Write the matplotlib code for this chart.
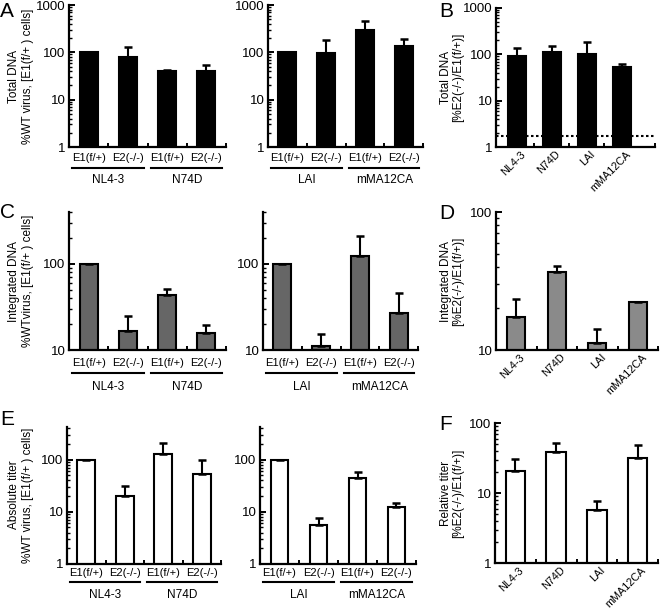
import numpy as np
import matplotlib
matplotlib.use("Agg")
import matplotlib.pyplot as plt
from matplotlib.lines import Line2D
from matplotlib.transforms import offset_copy, ScaledTranslation
from matplotlib.ticker import FuncFormatter, FixedLocator, LogLocator

plt.rcParams["font.family"] = ["Liberation Sans", "DejaVu Sans"]

W, H = 660, 616
nan = np.nan

# --- data ---
cells = ["E1(f/+)", "E2(-/-)", "E1(f/+)", "E2(-/-)"]
groups_left = ["NL4-3", "N74D"]
groups_right = ["LAI", "mMA12CA"]
viruses = ["NL4-3", "N74D", "LAI", "mMA12CA"]

total_left = [100, 81, 40, 40]
total_left_top = [nan, 132, 42, 55]
total_right = [100, 95, 297, 137]
total_right_top = [nan, 178, 452, 192]
total_ratio = [90, 111, 100, 52]
total_ratio_top = [140, 155, 183, 62]
total_limit = 1.7

integ_left = [100, 16.8, 43.6, 15.6]
integ_left_top = [nan, 25, 50.7, 19.5]
integ_right = [100, 11.1, 125, 27.2]
integ_right_top = [nan, 15.2, 213, 45.6]
integ_ratio = [17.2, 36.8, 11.2, 22.1]
integ_ratio_top = [23.4, 40.5, 14.2, nan]

titer_left = [100, 19.7, 128.5, 52]
titer_left_top = [nan, 30.7, 209, 100]
titer_right = [100, 5.7, 43.8, 12.3]
titer_right_top = [nan, 7.55, 58.8, 14.7]
titer_ratio = [20.4, 38, 5.78, 31.6]
titer_ratio_top = [31, 51.8, 7.6, 48]

BLACK = "#000000"
GRAY_C = "#666666"
GRAY_D = "#8a8a8a"
WHITE = "#ffffff"

fig = plt.figure(figsize=(W / 100, H / 100), dpi=100)


def add_ax(left, right, top, bottom):
    return fig.add_axes([left / W, 1 - bottom / H, (right - left) / W, (bottom - top) / H])


def style(ax, ylim, xlim, minor_x):
    ax.set_yscale("log")
    ax.set_ylim(*ylim)
    ax.set_xlim(*xlim)
    for s in ("top", "right"):
        ax.spines[s].set_visible(False)
    for s in ("left", "bottom"):
        ax.spines[s].set_linewidth(1.6)
    ax.yaxis.set_major_locator(LogLocator(base=10))
    ax.yaxis.set_minor_locator(LogLocator(base=10, subs=np.arange(2, 10)))
    ax.yaxis.set_major_formatter(FuncFormatter(lambda v, _: f"{v:g}"))
    ax.yaxis.set_minor_formatter(FuncFormatter(lambda v, _: ""))
    ax.tick_params(axis="y", which="major", direction="in", length=4, width=1.4, labelsize=9.5, pad=2.5)
    ax.tick_params(axis="y", which="minor", direction="in", length=2, width=1.0)
    ax.xaxis.set_minor_locator(FixedLocator(minor_x))
    ax.tick_params(axis="x", which="minor", direction="in", length=3, width=1.4)
    ax.tick_params(axis="x", which="major", length=0)


def bars(ax, vals, tops, color, width):
    x = np.arange(len(vals))
    vals = np.asarray(vals, float)
    tops = np.asarray(tops, float)
    ax.bar(x, vals, width=width, color=color, edgecolor="black", linewidth=1.5, zorder=2)
    ax.errorbar(x, vals, yerr=[np.zeros_like(vals), tops - vals], fmt="none",
                ecolor="black", elinewidth=1.5, capsize=3.2, capthick=1.8, zorder=3)


def pair_panel(left, right, top, bottom, vals, tops, groups, color, ylim, offs):
    ax = add_ax(left, right, top, bottom)
    style(ax, ylim, (-0.5, 3.5), [0.5, 1.5, 2.5, 3.5])
    bars(ax, vals, tops, color, 0.46)
    ax.set_xticks(range(4))
    ax.set_xticklabels(cells, fontsize=8)
    ax.tick_params(axis="x", which="major", pad=offs[0])
    base = ax.get_xaxis_transform()
    line_tr = offset_copy(base, fig=fig, y=-offs[1], units="dots")
    text_tr = offset_copy(base, fig=fig, y=-offs[2], units="dots")
    for g, name in enumerate(groups):
        ax.add_line(Line2D([2 * g - 0.42, 2 * g + 1.4], [0, 0], transform=line_tr,
                           color="black", lw=1.5, clip_on=False))
        ax.text(2 * g + 0.5, 0, name, transform=text_tr, ha="center", va="center", fontsize=8.5)
    return ax


def ratio_panel(left, right, top, bottom, vals, tops, color, ylim, xlim, minor_x, width):
    ax = add_ax(left, right, top, bottom)
    style(ax, ylim, xlim, minor_x)
    bars(ax, vals, tops, color, width)
    ax.set_xticks(range(4))
    ax.set_xticklabels(viruses, fontsize=7.8, rotation=45, ha="right", va="center",
                       rotation_mode="anchor")
    ax.tick_params(axis="x", which="major", pad=4)
    shift = ScaledTranslation(7 / 100, 0, fig.dpi_scale_trans)
    for lab in ax.get_xticklabels():
        lab.set_transform(lab.get_transform() + shift)
    return ax


def ylabel(x_px, y_px, text, size=8.5):
    fig.text(x_px / W, 1 - y_px / H, text, rotation=90, ha="center", va="center", fontsize=size)


def letter(x_px, y_px, s):
    fig.text(x_px / W, 1 - y_px / H, s, ha="left", va="top", fontsize=15)


# --- row 1: total DNA ---
pair_panel(69, 226, 5, 147, total_left, total_left_top, groups_left, BLACK, (1, 1000), (4, 21, 33))
pair_panel(268, 423, 5, 147, total_right, total_right_top, groups_right, BLACK, (1, 1000), (4, 21, 33))
axb = ratio_panel(496, 655, 8, 147, total_ratio, total_ratio_top, BLACK, (1, 1000),
                  (-0.6, 3.95), [0.5, 1.5, 2.5, 3.95], 0.5)
axb.axhline(total_limit, color="black", lw=1.5, ls=(0, (1.2, 1.2)), zorder=1)

# --- row 2: integrated DNA ---
pair_panel(69, 226, 212, 350, integ_left, integ_left_top, groups_left, GRAY_C, (10, 400), (6, 23, 37))
pair_panel(263, 418, 212, 350, integ_right, integ_right_top, groups_right, GRAY_C, (10, 400), (6, 23, 37))
ratio_panel(496, 658, 212, 350, integ_ratio, integ_ratio_top, GRAY_D, (10, 100),
            (-0.5, 3.5), [0.5, 1.5, 2.5, 3.5], 0.45)

# --- row 3: titer ---
pair_panel(67, 221, 427, 564, titer_left, titer_left_top, groups_left, WHITE, (1, 420), (3, 18, 31))
pair_panel(260, 416, 427, 564, titer_right, titer_right_top, groups_right, WHITE, (1, 420), (3, 18, 31))
ratio_panel(495, 658, 423, 563, titer_ratio, titer_ratio_top, WHITE, (1, 100),
            (-0.5, 3.5), [0.5, 1.5, 2.5, 3.5], 0.48)

# --- axis titles ---
ylabel(14, 76, "Total DNA")
ylabel(28, 76, "%WT virus, [E1(f/+ ) cells]")
ylabel(446, 77, "Total DNA")
ylabel(458, 77, "[%E2(-/-)/E1(f/+)]")
ylabel(14, 281, "Integrated DNA")
ylabel(28, 281, "%WTvirus, [E1(f/+ ) cells]")
ylabel(446, 281, "Integrated DNA")
ylabel(458, 281, "[%E2(-/-)/E1(f/+)]")
ylabel(14, 495, "Absolute titer")
ylabel(28, 495, "%WT virus, [E1(f/+ ) cells]")
ylabel(446, 493, "Relative titer")
ylabel(458, 493, "[%E2(-/-)/E1(f/+)]")

letter(0, 2, "A")
letter(439, 2, "B")
letter(0, 203, "C")
letter(439, 204, "D")
letter(0, 410, "E")
letter(439, 415, "F")

fig.savefig("out.png", dpi=100)
